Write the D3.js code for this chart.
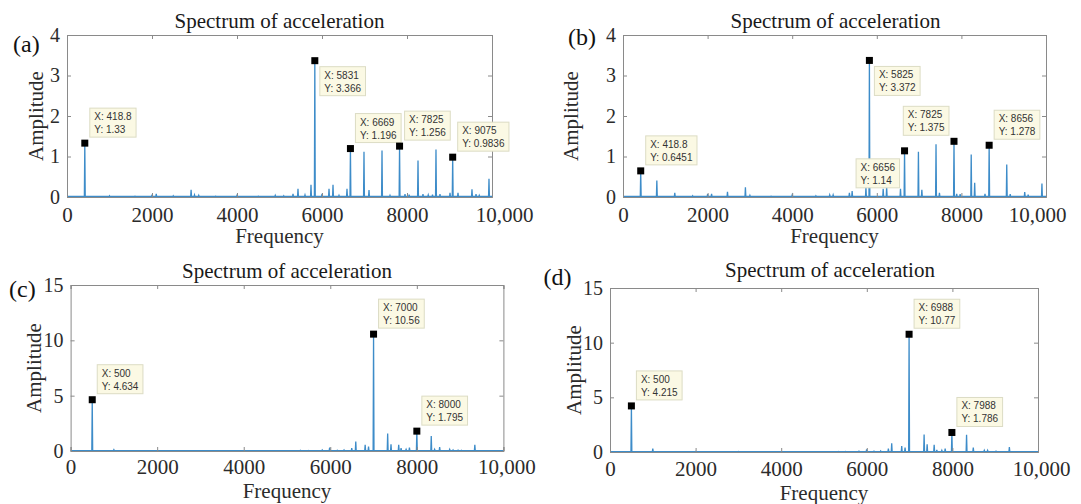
<!DOCTYPE html>
<html>
<head>
<meta charset="utf-8">
<script src="https://cdn.jsdelivr.net/npm/d3@7"></script>
<style>
  html, body { margin: 0; padding: 0; background: #ffffff; }
  svg { display: block; }
</style>
</head>
<body>
<svg id="chart" width="1081" height="504"></svg>
<script>
// ---------------- DATA ----------------
const xTickValues = [0, 2000, 4000, 6000, 8000, 10000];
const xTickLabels = ["0", "2000", "4000", "6000", "8000", "10,000"];
const yTicksTop = [0, 1, 2, 3, 4];
const yTicksBottom = [0, 5, 10, 15];

// Panel (a) spectrum peaks
const freqA = [
  418.8, 1000, 1600, 2000, 2100, 2500, 2920, 3000, 3100, 3500,
  4000, 4500, 4900, 5100, 5318, 5435, 5600, 5741, 5831, 6000,
  6165, 6259, 6400, 6588, 6669, 6988, 7106, 7412, 7600, 7825,
  7953, 8050, 8259, 8376, 8500, 8600, 8682, 8776, 9012, 9075,
  9200, 9529, 9624, 9700, 9929];
const ampA = [
  1.33, 0.03, 0.02, 0.06, 0.08, 0.03, 0.18, 0.05, 0.04, 0.02,
  0.04, 0.02, 0.04, 0.03, 0.08, 0.20, 0.05, 0.30, 3.366, 0.08,
  0.20, 0.30, 0.04, 0.20, 1.196, 1.12, 0.17, 1.15, 0.04, 1.256,
  0.07, 0.06, 0.90, 0.07, 0.05, 0.06, 1.17, 0.07, 0.10, 0.9836,
  0.10, 0.19, 0.07, 0.04, 0.45];

// Panel (b)
const freqB = [
  418.8, 800, 1224, 1647, 2000, 2094, 2470, 2894, 3000, 3500,
  4000, 4560, 4887, 4968, 5352, 5417, 5743, 5825, 6151, 6233,
  6560, 6656, 6984, 7065, 7400, 7481, 7825, 7889, 7970, 8232,
  8314, 8558, 8656, 9072, 9154, 9497, 9578, 9904];
const ampB = [
  0.6451, 0.41, 0.10, 0.03, 0.07, 0.08, 0.13, 0.24, 0.04, 0.02,
  0.05, 0.03, 0.05, 0.05, 0.10, 0.15, 0.25, 3.372, 0.20, 0.25,
  0.20, 1.14, 1.12, 0.18, 1.30, 0.10, 1.375, 0.08, 0.07, 1.05,
  0.35, 0.08, 1.278, 0.80, 0.07, 0.12, 0.06, 0.33];

// Panel (c)
const freqC = [
  500, 1000, 2000, 3000, 4000, 5000, 5310, 5504, 5814, 5985,
  6163, 6318, 6496, 6589, 6806, 6884, 7000, 7326, 7403, 7581,
  7636, 7752, 7829, 8000, 8333, 8411, 8527, 8759, 8837, 8953,
  9030, 9340];
const ampC = [
  4.634, 0.12, 0.04, 0.04, 0.04, 0.04, 0.06, 0.05, 0.10, 0.30,
  0.07, 0.10, 0.25, 0.85, 0.57, 0.40, 10.56, 1.57, 0.60, 0.55,
  0.25, 0.15, 0.30, 1.795, 1.35, 0.15, 0.35, 0.15, 0.10, 0.08,
  0.06, 0.57];

// Panel (d)
const freqD = [
  500, 1000, 2000, 3000, 4000, 5000, 5332, 5504, 5817, 5996,
  6168, 6324, 6504, 6582, 6816, 6894, 6988, 7339, 7410, 7574,
  7636, 7753, 7831, 7988, 8331, 8488, 8745, 8823, 9019, 9331];
const ampD = [
  4.215, 0.30, 0.05, 0.05, 0.04, 0.04, 0.05, 0.05, 0.08, 0.25,
  0.08, 0.10, 0.30, 0.80, 0.55, 0.40, 10.77, 1.60, 0.70, 0.65,
  0.20, 0.15, 0.30, 1.786, 1.57, 0.40, 0.15, 0.15, 0.08, 0.45];

// Data tips
const tipXA = ["418.8", "5831", "6669", "7825", "9075"];
const tipYA = ["1.33", "3.366", "1.196", "1.256", "0.9836"];
const tipXB = ["418.8", "5825", "6656", "7825", "8656"];
const tipYB = ["0.6451", "3.372", "1.14", "1.375", "1.278"];
const tipXC = ["500", "7000", "8000"];
const tipYC = ["4.634", "10.56", "1.795"];
const tipXD = ["500", "6988", "7988"];
const tipYD = ["4.215", "10.77", "1.786"];

const panelLetters = ["(a)", "(b)", "(c)", "(d)"];
const titleText = "Spectrum of acceleration";
const xLabelText = "Frequency";
const yLabelText = "Amplitude";

// ---------------- LAYOUT (styles / positions) ----------------
const layouts = [
  { l: 67,  r: 492,  t: 35,  b: 197, yMax: 4,  yTicks: yTicksTop,
    freq: freqA, amp: ampA, tx: tipXA, ty: tipYA, tipPos: ["ne","se","ne","ne","ne"],
    letterX: 13, letterY: 52, titleDx: 0, titleY: 28, yLabOff: 24, xLabOff: 46,
    xPad: 10, lastDx: 12, floor: 0.012 },
  { l: 623, r: 1046, t: 35,  b: 197, yMax: 4,  yTicks: yTicksTop,
    freq: freqB, amp: ampB, tx: tipXB, ty: tipYB, tipPos: ["ne","se","sw","nw","ne"],
    letterX: 568, letterY: 45, titleDx: 1, titleY: 28, yLabOff: 45, xLabOff: 46,
    xPad: 10, lastDx: -9, floor: 0.012 },
  { l: 70.6, r: 503.4, t: 285, b: 451, yMax: 15, yTicks: yTicksBottom,
    freq: freqC, amp: ampC, tx: tipXC, ty: tipYC, tipPos: ["ne","ne","ne"],
    letterX: 9, letterY: 297, titleDx: 0, titleY: 278, yLabOff: 30, xLabOff: 47,
    xPad: 8, lastDx: 3, floor: 0.04 },
  { l: 610, r: 1038, t: 288, b: 452, yMax: 15, yTicks: yTicksBottom,
    freq: freqD, amp: ampD, tx: tipXD, ty: tipYD, tipPos: ["ne","ne","ne"],
    letterX: 543.5, letterY: 285, titleDx: 6, titleY: 277, yLabOff: 29, xLabOff: 48,
    xPad: 9, lastDx: 3, floor: 0.04 }
];

const serif = "'Liberation Serif', 'Times New Roman', serif";
const sans = "'Liberation Sans', Arial, sans-serif";
const lineColor = "#3d8cc9";
const axisColor = "#8a8a8a";
const textColor = "#2b2b2b";

const svg = d3.select("#chart");

layouts.forEach((L, i) => {
  const x = d3.scaleLinear().domain([0, 10000]).range([L.l, L.r]);
  const y = d3.scaleLinear().domain([0, L.yMax]).range([L.b, L.t]);
  const g = svg.append("g");

  // spectrum path (stem-like spikes over a small floor)
  const pts = [[0, L.floor]];
  const half = 10;
  L.freq.forEach((f, k) => {
    pts.push([f - half, L.floor]);
    pts.push([f, L.amp[k]]);
    pts.push([f + half, L.floor]);
  });
  pts.push([10000, L.floor]);
  const line = d3.line().x(d => x(d[0])).y(d => y(d[1]));
  g.append("path")
    .datum(pts)
    .attr("d", line)
    .attr("fill", "none")
    .attr("stroke", lineColor)
    .attr("stroke-width", 1.3)
    .attr("stroke-linejoin", "miter");

  // axes box with inward ticks
  const fmtX = d => xTickLabels[xTickValues.indexOf(d)];
  const axB = g.append("g").attr("transform", `translate(0,${L.b})`)
    .call(d3.axisBottom(x).tickValues(xTickValues).tickFormat(fmtX).tickSize(-4).tickPadding(L.xPad));
  const axT = g.append("g").attr("transform", `translate(0,${L.t})`)
    .call(d3.axisTop(x).tickValues(xTickValues).tickFormat("").tickSize(-4));
  const axL = g.append("g").attr("transform", `translate(${L.l},0)`)
    .call(d3.axisLeft(y).tickValues(L.yTicks).tickFormat(d3.format("d")).tickSize(-4).tickPadding(7));
  const axR = g.append("g").attr("transform", `translate(${L.r},0)`)
    .call(d3.axisRight(y).tickValues(L.yTicks).tickFormat("").tickSize(-4));
  [axB, axT, axL, axR].forEach(a => {
    a.select(".domain").attr("stroke", axisColor).attr("stroke-width", 1);
    a.selectAll(".tick line").attr("stroke", axisColor).attr("stroke-width", 1);
    a.selectAll("text")
      .attr("font-family", serif)
      .attr("font-size", 21)
      .attr("fill", textColor);
  });
  axL.selectAll("text").attr("font-size", 20);
  axB.selectAll(".tick text").filter(d => d === 10000).attr("dx", L.lastDx);

  // labels
  const cx = (L.l + L.r) / 2;
  const cy = (L.t + L.b) / 2;
  g.append("text")
    .attr("x", cx + L.titleDx).attr("y", L.titleY)
    .attr("text-anchor", "middle")
    .attr("font-family", serif).attr("font-size", 21).attr("fill", "#1a1a1a")
    .text(titleText);
  g.append("text")
    .attr("x", cx).attr("y", L.b + L.xLabOff)
    .attr("text-anchor", "middle")
    .attr("font-family", serif).attr("font-size", 21).attr("fill", textColor)
    .text(xLabelText);
  g.append("text")
    .attr("transform", `translate(${L.l - L.yLabOff},${cy}) rotate(-90)`)
    .attr("text-anchor", "middle")
    .attr("font-family", serif).attr("font-size", 21).attr("fill", textColor)
    .text(yLabelText);
  g.append("text")
    .attr("x", L.letterX).attr("y", L.letterY)
    .attr("font-family", serif).attr("font-size", 24).attr("fill", "#111")
    .text(panelLetters[i]);

  // data tips
  L.tx.forEach((xs, k) => {
    const mx = x(+xs), my = y(+L.ty[k]);
    const t1 = "X: " + xs, t2 = "Y: " + L.ty[k];
    const tg = g.append("g");
    const rect = tg.append("rect")
      .attr("fill", "#fbf9e4").attr("stroke", "#dcdcc4").attr("stroke-width", 1);
    const tt1 = tg.append("text").text(t1)
      .attr("font-family", sans).attr("font-size", 10).attr("fill", "#333");
    const tt2 = tg.append("text").text(t2)
      .attr("font-family", sans).attr("font-size", 10).attr("fill", "#333");
    const w = Math.max(tt1.node().getComputedTextLength(), tt2.node().getComputedTextLength()) + 9;
    const h = 29;
    const pos = L.tipPos[k];
    let bx, by;
    if (pos === "ne") { bx = mx + 5; by = my - 6 - h; }
    else if (pos === "se") { bx = mx + 5; by = my + 6; }
    else if (pos === "sw") { bx = mx - 5 - w; by = my + 8; }
    else { bx = mx - 5 - w; by = my - 6 - h; }
    rect.attr("x", bx).attr("y", by).attr("width", w).attr("height", h);
    tt1.attr("x", bx + 4.5).attr("y", by + 12);
    tt2.attr("x", bx + 4.5).attr("y", by + 25);
    g.append("rect")
      .attr("x", mx - 3.5).attr("y", my - 3.5)
      .attr("width", 7).attr("height", 7)
      .attr("fill", "#000");
  });
});
</script>
</body>
</html>
